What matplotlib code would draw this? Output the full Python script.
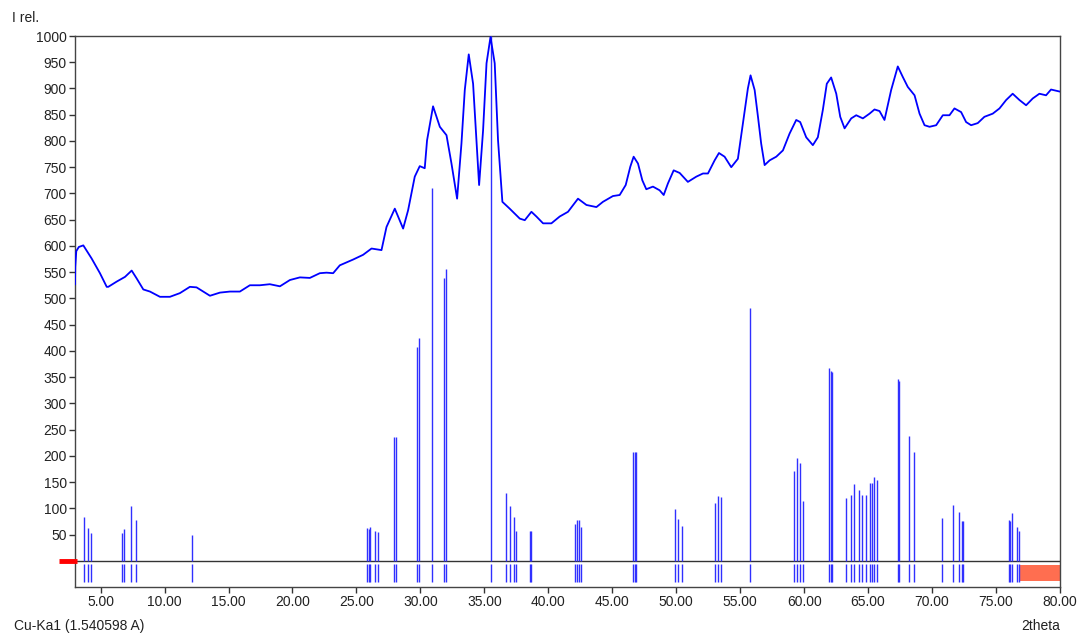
import matplotlib
matplotlib.use("Agg")
import matplotlib.pyplot as plt
import matplotlib.transforms as mtransforms
from matplotlib.patches import Rectangle

plt.rcParams['font.family'] = ['Liberation Sans', 'DejaVu Sans']

# measured pattern (2theta, I rel.)
two_theta = [3.00, 3.02, 3.10, 3.30, 3.65, 4.30, 4.95, 5.48, 5.60, 6.26, 6.91, 7.43, 7.82,
             8.34, 8.86, 9.64, 10.42, 11.20, 11.98, 12.50, 13.02, 13.55, 14.33, 15.11,
             15.89, 16.67, 17.45, 18.23, 19.02, 19.80, 20.58, 21.36, 22.14, 22.66, 23.18,
             23.70, 24.74, 25.52, 26.18, 26.96, 27.35, 28.00, 28.65, 29.04, 29.56, 29.95,
             30.34, 30.52, 30.99, 31.52, 32.04, 32.43, 32.87, 33.21, 33.47, 33.78, 34.12,
             34.59, 34.90, 35.17, 35.48, 35.81, 36.07, 36.41, 36.98, 37.77, 38.16, 38.68,
             39.07, 39.59, 40.24, 40.89, 41.54, 42.32, 42.98, 43.76, 44.27, 45.05, 45.58,
             46.05, 46.41, 46.67, 47.01, 47.35, 47.66, 48.18, 48.70, 49.02, 49.35, 49.80,
             50.27, 50.91, 51.57, 52.09, 52.48, 53.00, 53.34, 53.78, 54.30, 54.82, 55.21,
             55.60, 55.81, 56.13, 56.39, 56.64, 56.91, 57.30, 57.82, 58.34, 58.86, 59.38,
             59.69, 60.16, 60.68, 61.07, 61.46, 61.77, 62.11, 62.51, 62.82, 63.16, 63.68,
             64.07, 64.59, 65.11, 65.50, 65.89, 66.28, 66.80, 67.32, 67.71, 68.10, 68.63,
             69.02, 69.41, 69.80, 70.32, 70.84, 71.36, 71.75, 72.27, 72.66, 73.05, 73.57,
             74.09, 74.74, 75.27, 75.79, 76.30, 76.83, 77.35, 77.87, 78.39, 78.91, 79.30,
             80.00]
intensity = [527, 560, 590, 598, 601, 576, 548, 522, 522, 532, 541, 553, 538,
             517, 513, 503, 503, 510, 522, 521, 513, 505, 511, 513,
             513, 525, 525, 527, 523, 535, 540, 539, 548, 549, 548,
             563, 574, 583, 595, 592, 636, 671, 633, 668, 732, 752,
             748, 801, 866, 827, 811, 757, 690, 795, 897, 965, 909,
             716, 820, 948, 998, 948, 801, 684, 671, 652, 649, 665,
             656, 643, 643, 656, 665, 690, 678, 674, 684, 695, 697,
             716, 751, 770, 757, 725, 708, 713, 706, 697, 719, 744,
             739, 722, 732, 738, 738, 763, 777, 770, 750, 766, 833,
             900, 925, 897, 846, 795, 754, 763, 770, 782, 814, 840,
             836, 807, 792, 807, 859, 909, 921, 890, 846, 824, 843,
             849, 843, 852, 860, 857, 840, 897, 942, 922, 903, 887,
             852, 830, 827, 830, 849, 849, 862, 855, 836, 830, 834,
             846, 852, 862, 878, 890, 878, 868, 881, 890, 887, 898,
             894]

# reference pattern sticks (2theta, I rel.)
stick_pos = [3.70, 4.02, 4.23, 6.65, 6.83, 7.35, 7.77, 12.17,
             25.85, 25.95, 26.05, 26.46, 26.70, 27.92, 28.13, 29.77, 29.87, 30.91,
             31.85, 32.04, 35.52, 36.67, 36.98, 37.30, 37.50, 38.55, 38.65,
             42.07, 42.24, 42.37, 42.53, 46.62, 46.75, 46.86, 49.88, 50.13, 50.47,
             53.00, 53.26, 53.52, 55.73, 59.18, 59.43, 59.64, 59.92, 61.98, 62.08, 62.19,
             63.26, 63.68, 63.88, 64.27, 64.54, 64.80, 65.11, 65.32, 65.48, 65.68,
             67.30, 67.40, 68.16, 68.57, 70.79, 71.67, 72.14, 72.35, 72.43,
             75.99, 76.10, 76.28, 76.62, 76.83]
stick_int = [84, 62, 53, 53, 60, 105, 78, 50,
             62, 60, 65, 57, 55, 235, 235, 407, 424, 710,
             539, 556, 1000, 129, 105, 83, 57, 57, 57,
             70, 78, 78, 65, 207, 207, 207, 98, 80, 67,
             111, 124, 121, 481, 172, 195, 187, 113, 367, 362, 359,
             119, 126, 147, 134, 126, 126, 148, 148, 159, 154,
             347, 343, 238, 207, 81, 106, 93, 76, 76,
             78, 76, 91, 65, 57]

x_ticks = [5, 10, 15, 20, 25, 30, 35, 40, 45, 50, 55, 60, 65, 70, 75, 80]
y_ticks = list(range(50, 1001, 50))
excluded_range = [76.88, 80.0]

fig = plt.figure(figsize=(10.8, 6.37), dpi=100)
ax = fig.add_axes([75/1080, 1 - 587/637, (1060 - 75)/1080, (587 - 36)/637])
ax.set_xlim(3, 80)
ax.set_ylim(-50, 1000)

blue = '#0000ff'
stick_col = '#3030ff'

# measured curve
ax.plot(two_theta, intensity, color=blue, lw=1.3, zorder=4)

# sticks
ax.vlines(stick_pos, 0, stick_int, color=stick_col, lw=1.0, zorder=3)
ax.vlines(stick_pos, -41, -7, color=stick_col, lw=1.0, zorder=3)

# baseline
ax.axhline(0, color='#333333', lw=1.0, zorder=2)

# excluded range patch
ax.add_patch(Rectangle((excluded_range[0], -38), excluded_range[1] - excluded_range[0], 29,
                       facecolor='#ff6e50', edgecolor='none', zorder=2))

# red marker at the baseline left of the axis
trans = mtransforms.blended_transform_factory(ax.transAxes, ax.transData)
ax.plot([-0.016, 0.002], [0, 0], color='#ff0000', lw=3.5, transform=trans,
        clip_on=False, zorder=5, solid_capstyle='butt')

ax.set_xticks(x_ticks)
ax.set_xticklabels([f"{t:.2f}" for t in x_ticks])
ax.set_yticks(y_ticks)
ax.set_yticklabels([str(t) for t in y_ticks])
ax.tick_params(direction='out', length=4, width=1, colors='#333333', labelcolor='#222222',
               labelsize=10, pad=2)
for s in ax.spines.values():
    s.set_color('#444444')
    s.set_linewidth(1.0)

fig.text(12/1080, 1 - 18/637, 'I rel.', fontsize=10, color='#222222', va='center', ha='left')
fig.text(14/1080, 1 - 626/637, 'Cu-Ka1 (1.540598 A)', fontsize=10, color='#222222',
         va='center', ha='left')
fig.text(1060/1080, 1 - 626/637, '2theta', fontsize=10, color='#222222', va='center', ha='right')

fig.savefig('out.png', dpi=100)
